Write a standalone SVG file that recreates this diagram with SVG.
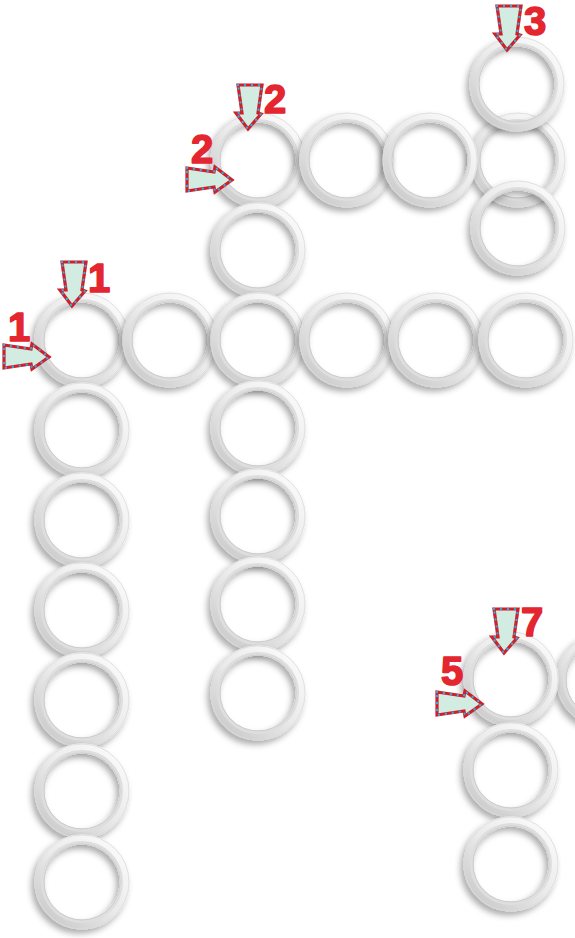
<svg xmlns="http://www.w3.org/2000/svg" xmlns:xlink="http://www.w3.org/1999/xlink" width="575" height="938" viewBox="0 0 575 938">
<style>
.lbl{font-family:"Liberation Sans",Arial,sans-serif;font-weight:bold;font-size:40px;fill:#e3262f;stroke:#e3262f;stroke-width:1.6;stroke-linejoin:round}
.arr{fill:#d3ece1;stroke:#cf1f28;stroke-width:3.2;stroke-linejoin:miter}
.dots{fill:none;stroke:#3ba6dc;stroke-width:2.4;stroke-linecap:round;stroke-dasharray:0 7}
</style>
<defs>
<linearGradient id="rg" x1="0.85" y1="0.1" x2="0.15" y2="0.9">
<stop offset="0" stop-color="#f8f8f8"/>
<stop offset="0.5" stop-color="#eaeaea"/>
<stop offset="1" stop-color="#cfcfcf"/>
</linearGradient>
<filter id="sh" x="-30%" y="-30%" width="160%" height="160%">
<feDropShadow dx="-3" dy="4" stdDeviation="3" flood-color="#000" flood-opacity="0.33"/>
</filter>
<g id="ring">
<circle r="42.5" fill="none" stroke="url(#rg)" stroke-width="10" filter="url(#sh)"/>
<circle r="39.5" fill="none" stroke="#dedede" stroke-width="3"/>
<circle r="38" fill="none" stroke="#cdcdcd" stroke-width="1"/>
<circle r="47" fill="none" stroke="#dadada" stroke-width="0.8"/>
</g>
<path id="down" d="M-10,-44 L14,-44 L10,-16 L13,-15 L0,0 L-12,-16 L-6,-16 Z"/>
<path id="right" d="M-45,-12 L-18,-8 L-17,-13 L0,0 L-17,12 L-18,7 L-45,11 Z"/>
</defs>
<rect width="575" height="938" fill="#ffffff"/>
<g id="rings">
<g id="r-b4"><use xlink:href="#ring" x="518" y="160"/></g>
<g id="r-b1"><use xlink:href="#ring" x="258" y="160"/></g>
<g id="r-b2"><use xlink:href="#ring" x="347" y="160"/></g>
<g id="r-b3"><use xlink:href="#ring" x="430" y="160"/></g>
<g id="r-c3-1"><use xlink:href="#ring" x="517" y="84"/></g>
<g id="r-c3-3"><use xlink:href="#ring" x="518" y="228"/></g>
<g id="r-c2-2"><use xlink:href="#ring" x="258" y="250"/></g>
<g id="r-a1"><use xlink:href="#ring" x="82" y="340"/></g>
<g id="r-a2"><use xlink:href="#ring" x="170" y="340"/></g>
<g id="r-a3"><use xlink:href="#ring" x="258" y="340"/></g>
<g id="r-a4"><use xlink:href="#ring" x="347" y="340"/></g>
<g id="r-a5"><use xlink:href="#ring" x="436" y="340"/></g>
<g id="r-a6"><use xlink:href="#ring" x="526" y="340"/></g>
<g id="r-c1-2"><use xlink:href="#ring" x="82" y="430"/></g>
<g id="r-c1-3"><use xlink:href="#ring" x="82" y="520"/></g>
<g id="r-c1-4"><use xlink:href="#ring" x="82" y="610"/></g>
<g id="r-c1-5"><use xlink:href="#ring" x="82" y="700"/></g>
<g id="r-c1-6"><use xlink:href="#ring" x="82" y="791"/></g>
<g id="r-c1-7"><use xlink:href="#ring" x="82" y="882"/></g>
<g id="r-c2-4"><use xlink:href="#ring" x="258" y="428"/></g>
<g id="r-c2-5"><use xlink:href="#ring" x="258" y="516"/></g>
<g id="r-c2-6"><use xlink:href="#ring" x="258" y="604"/></g>
<g id="r-c2-7"><use xlink:href="#ring" x="258" y="693"/></g>
<g id="r-d2"><use xlink:href="#ring" x="604" y="680"/></g>
<g id="r-d1"><use xlink:href="#ring" x="511" y="679"/></g>
<g id="r-d3"><use xlink:href="#ring" x="511" y="770"/></g>
<g id="r-d4"><use xlink:href="#ring" x="511" y="864"/></g>
</g>
<g id="connectors">
<g transform="translate(72,306)"><use xlink:href="#down" class="arr"/><use xlink:href="#down" class="dots"/></g>
<g transform="translate(49,357)"><use xlink:href="#right" class="arr"/><use xlink:href="#right" class="dots"/></g>
<g transform="translate(248,129)"><use xlink:href="#down" class="arr"/><use xlink:href="#down" class="dots"/></g>
<g transform="translate(232,180)"><use xlink:href="#right" class="arr"/><use xlink:href="#right" class="dots"/></g>
<g transform="translate(507,50)"><use xlink:href="#down" class="arr"/><use xlink:href="#down" class="dots"/></g>
<g transform="translate(504,653)"><use xlink:href="#down" class="arr"/><use xlink:href="#down" class="dots"/></g>
<g transform="translate(482,704)"><use xlink:href="#right" class="arr"/><use xlink:href="#right" class="dots"/></g>
</g>
<g id="labels">
<text class="lbl" x="88" y="292">1</text>
<text class="lbl" x="8" y="341">1</text>
<text class="lbl" x="264" y="113">2</text>
<text class="lbl" x="191" y="163">2</text>
<text class="lbl" x="524" y="35">3</text>
<text class="lbl" x="521" y="636">7</text>
<text class="lbl" x="441" y="685">5</text>
</g>
</svg>
